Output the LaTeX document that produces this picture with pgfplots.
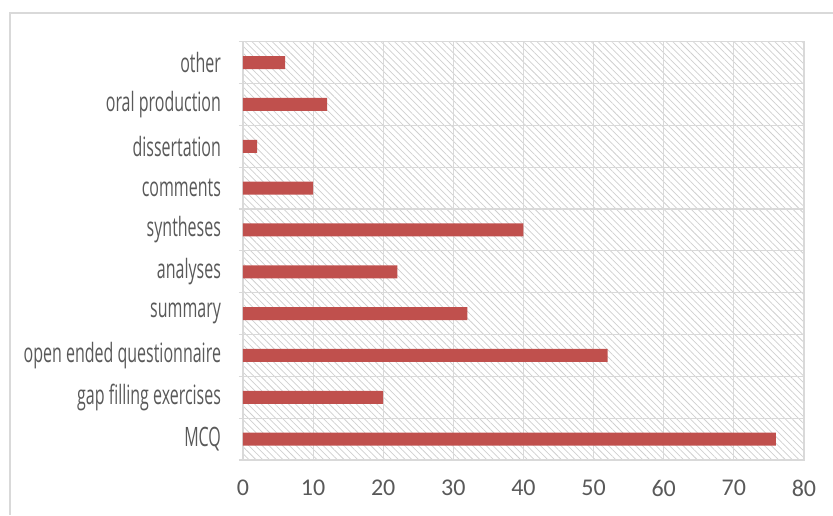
\documentclass[border=0pt]{standalone}
\usepackage{fontspec}
\setmainfont{Carlito}
\newfontfamily\condfont[FakeStretch=0.6]{Open Sans}
\usepackage{pgfplots}
\pgfplotsset{compat=1.18}
\usetikzlibrary{patterns.meta}
\definecolor{barred}{HTML}{C0504D}
\definecolor{gridgray}{HTML}{D9D9D9}
\definecolor{txtgray}{HTML}{595959}
\definecolor{hatch}{HTML}{CFCFCF}
\begin{document}
\begin{tikzpicture}
\useasboundingbox (0pt,0pt) rectangle (624.75pt,387pt);
% chart frame
\draw[gridgray, line width=1.1pt] (7.5pt,0.75pt) -- (7.5pt,377.25pt) -- (624.75pt,377.25pt);
\begin{axis}[
  at={(182.25pt,42pt)}, anchor=south west,
  scale only axis, width=420.75pt, height=313.7pt,
  xbar, bar width=9.75pt, bar shift=0pt,
  xmin=0, xmax=80, ymin=-0.5, ymax=9.5,
  xtick={0,10,...,80},
  ytick={-0.5,0.5,...,9.5},
  yticklabels={MCQ, gap filling exercises, open ended questionnaire, summary, analyses, syntheses, comments, dissertation, oral production, other},
  y tick label as interval,
  xmajorgrids, ymajorgrids,
  grid style={gridgray, line width=0.9pt},
  axis line style={gridgray, line width=0.9pt},
  axis background/.style={pattern={Lines[angle=-45,distance=3.6pt,line width=0.55pt]}, pattern color=hatch},
  tick align=outside, ytick pos=left, xtick pos=bottom,
  major tick length=3pt,
  xtick style={draw=none},
  ytick style={gridgray, line width=0.9pt},
  /pgf/number format/assume math mode=true,
  xticklabel style={font=\fontsize{18}{18}\selectfont, text=txtgray, anchor=north, yshift=-8.5pt},
  yticklabel style={font=\condfont\fontsize{20}{20}\selectfont, text=txtgray, anchor=east, xshift=-10pt},
]
\addplot[fill=barred, draw=none] coordinates {
  (76,0) (20,1) (52,2) (32,3) (22,4) (40,5) (10,6) (2,7) (12,8) (6,9)
};
\end{axis}
\end{tikzpicture}
\end{document}
